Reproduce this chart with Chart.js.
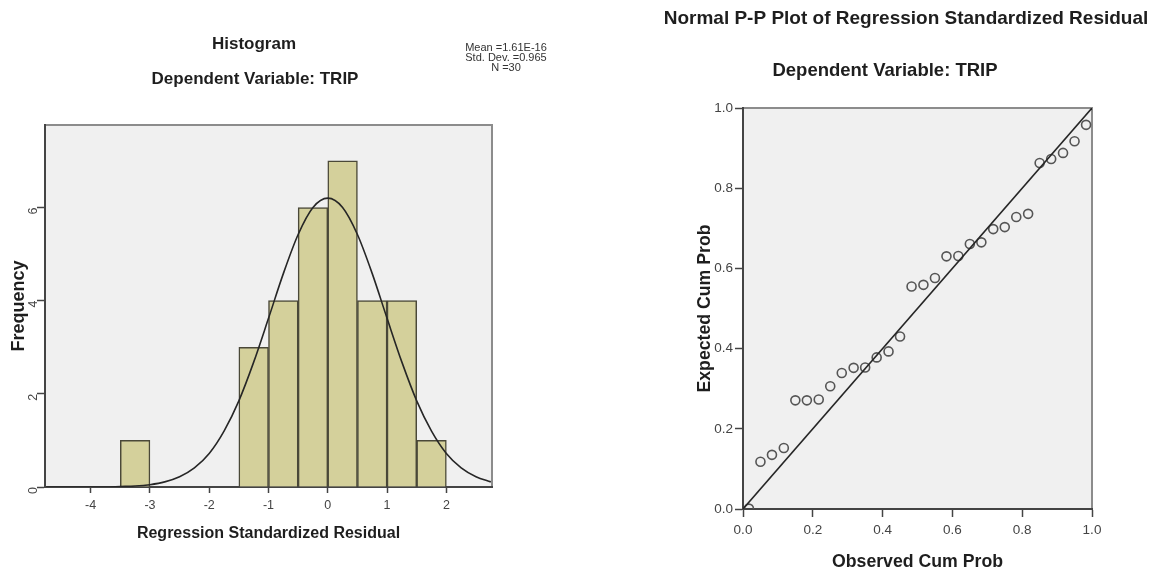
<!DOCTYPE html>
<html>
<head>
<meta charset="utf-8">
<script src="https://cdn.jsdelivr.net/npm/chart.js@4/dist/chart.umd.min.js"></script>
<style>
  html, body { margin: 0; padding: 0; background: #fff; }
  body { width: 1156px; height: 575px; position: relative; overflow: hidden; }
  canvas { position: absolute; top: 0; }
  #histo { left: 0; }
  #ppplot { left: 580px; }
</style>
</head>
<body>
<canvas id="histo" width="580" height="575"></canvas>
<canvas id="ppplot" width="576" height="575"></canvas>
<script>
// Histogram: bins of width 0.5 (centres) and counts
const binCenters = [-3.25, -1.25, -0.75, -0.25, 0.25, 0.75, 1.25, 1.75];
const binCounts  = [1, 3, 4, 6, 7, 4, 4, 1];

// normal curve
const curveX = [-4.75, -4.5, -4.25, -4, -3.75, -3.5, -3.25, -3, -2.75, -2.5, -2.25, -2, -1.75, -1.5, -1.25, -1,
                -0.75, -0.5, -0.25, 0, 0.25, 0.5, 0.75, 1, 1.25, 1.5, 1.75, 2, 2.25, 2.5, 2.75];
const curveY = [0, 0, 0, 0, 0, 0.01, 0.02, 0.05, 0.11, 0.22, 0.41, 0.72, 1.2, 1.85, 2.68, 3.62,
                4.58, 5.42, 6.0, 6.2, 6.0, 5.42, 4.58, 3.62, 2.68, 1.85, 1.2, 0.72, 0.41, 0.22, 0.11];

const histTicksX = [-4, -3, -2, -1, 0, 1, 2];
const histTicksY = [0, 2, 4, 6];
const statsLines = ['Mean =1.61E-16', 'Std. Dev. =0.965', 'N =30'];

// Normal P-P plot
const ppObserved = [0.017, 0.05, 0.083, 0.117, 0.15, 0.183, 0.217, 0.25, 0.283, 0.317, 0.35, 0.383, 0.417, 0.45, 0.483,
                    0.517, 0.55, 0.583, 0.617, 0.65, 0.683, 0.717, 0.75, 0.783, 0.817, 0.85, 0.883, 0.917, 0.95, 0.983];
const ppExpected = [0.001, 0.118, 0.135, 0.152, 0.271, 0.271, 0.273, 0.306, 0.339, 0.352, 0.353, 0.378, 0.393, 0.43, 0.555,
                    0.559, 0.576, 0.63, 0.631, 0.661, 0.665, 0.698, 0.703, 0.728, 0.736, 0.863, 0.873, 0.888, 0.917, 0.958];
const refLineX = [0, 1];
const refLineY = [0, 1];

const FONT = '"Liberation Sans", Arial, sans-serif';
Chart.defaults.font.family = FONT;
Chart.defaults.animation = false;

// grey plot background with frame
const plotFrame = {
    id: 'plotFrame',
    beforeDraw(chart) {
        const { ctx, chartArea: a } = chart;
        ctx.save();
        ctx.fillStyle = '#f0f0f0';
        ctx.fillRect(a.left, a.top, a.width, a.height);
        ctx.strokeStyle = '#8c8c8c';
        ctx.lineWidth = 2;
        ctx.strokeRect(a.left, a.top, a.width, a.height);
        ctx.restore();
    }
};

// titles and the stats block
const headText = {
    id: 'headText',
    afterDraw(chart, args, opts) {
        const ctx = chart.ctx;
        ctx.save();
        ctx.textAlign = 'center';
        ctx.textBaseline = 'middle';
        (opts.lines || []).forEach(l => {
            ctx.font = l.font;
            ctx.fillStyle = l.color || '#1e1e1e';
            ctx.fillText(l.text, l.x, l.y);
        });
        ctx.restore();
    }
};

function axisStyle(tickLength) {
    return {
        grid: { display: true, drawOnChartArea: false, drawTicks: true, tickLength: tickLength,
                tickColor: '#444', tickWidth: 1.5, offset: false },
        border: { display: true, color: '#444', width: 2 }
    };
}

// ---------- histogram ----------
new Chart(document.getElementById('histo'), {
    type: 'bar',
    data: {
        datasets: [
            {
                type: 'line',
                data: curveX.map((x, i) => ({ x: x, y: curveY[i] })),
                borderColor: '#262626',
                borderWidth: 1.6,
                pointRadius: 0,
                cubicInterpolationMode: 'monotone',
                order: 0
            },
            {
                type: 'bar',
                data: binCenters.map((x, i) => ({ x: x, y: binCounts[i] })),
                backgroundColor: '#d4d09b',
                borderColor: '#4a4838',
                borderWidth: 1.5,
                barPercentage: 1,
                categoryPercentage: 1,
                order: 1
            }
        ]
    },
    options: {
        responsive: false,
        layout: { padding: { top: 125, left: 0, right: 88, bottom: 0 } },
        plugins: {
            legend: { display: false },
            tooltip: { enabled: false },
            headText: {
                lines: [
                    { text: 'Histogram', x: 254, y: 44, font: 'bold 17px ' + FONT },
                    { text: 'Dependent Variable: TRIP', x: 255, y: 79, font: 'bold 17px ' + FONT },
                    { text: statsLines[0], x: 506, y: 48, font: '11px ' + FONT, color: '#333' },
                    { text: statsLines[1], x: 506, y: 58, font: '11px ' + FONT, color: '#333' },
                    { text: statsLines[2], x: 506, y: 68, font: '11px ' + FONT, color: '#333' }
                ]
            }
        },
        scales: {
            x: {
                type: 'linear',
                offset: false,
                min: -4.77,
                max: 2.77,
                afterBuildTicks: s => { s.ticks = histTicksX.map(v => ({ value: v })); },
                afterFit: s => { s.height = 88; },
                ticks: { color: '#444', font: { size: 12.5 }, padding: 5, maxRotation: 0 },
                title: { display: true, text: 'Regression Standardized Residual', color: '#1e1e1e',
                         font: { size: 16, weight: 'bold' }, padding: { top: 0, bottom: 32 } },
                ...axisStyle(6)
            },
            y: {
                type: 'linear',
                min: 0,
                max: 7.77,
                afterBuildTicks: s => { s.ticks = histTicksY.map(v => ({ value: v })); },
                afterFit: s => { s.width = 45; },
                ticks: { color: '#444', font: { size: 12.5 }, padding: 3, minRotation: 90, maxRotation: 90 },
                title: { display: true, text: 'Frequency', color: '#1e1e1e',
                         font: { size: 18, weight: 'bold' }, padding: { top: 8, bottom: 0 } },
                ...axisStyle(8)
            }
        }
    },
    plugins: [plotFrame, headText]
});

// ---------- normal P-P plot ----------
new Chart(document.getElementById('ppplot'), {
    type: 'scatter',
    data: {
        datasets: [
            {
                type: 'line',
                data: refLineX.map((x, i) => ({ x: x, y: refLineY[i] })),
                borderColor: '#262626',
                borderWidth: 1.6,
                pointRadius: 0,
                order: 0
            },
            {
                data: ppObserved.map((x, i) => ({ x: x, y: ppExpected[i] })),
                pointStyle: 'circle',
                pointRadius: 4.5,
                borderWidth: 1.6,
                borderColor: '#555',
                backgroundColor: 'rgba(0,0,0,0)',
                clip: 0,
                order: 1
            }
        ]
    },
    options: {
        responsive: false,
        layout: { padding: { top: 108, left: 0, right: 64, bottom: 0 } },
        plugins: {
            legend: { display: false },
            tooltip: { enabled: false },
            headText: {
                lines: [
                    { text: 'Normal P-P Plot of Regression Standardized Residual', x: 326, y: 19, font: 'bold 19px ' + FONT },
                    { text: 'Dependent Variable: TRIP', x: 305, y: 71, font: 'bold 18.5px ' + FONT }
                ]
            }
        },
        scales: {
            x: {
                type: 'linear',
                min: 0,
                max: 1,
                afterFit: s => { s.height = 66; },
                ticks: { stepSize: 0.2, color: '#444', font: { size: 13.5 }, padding: 5, maxRotation: 0,
                         callback: v => v.toFixed(1) },
                title: { display: true, text: 'Observed Cum Prob', color: '#1e1e1e',
                         font: { size: 17.7, weight: 'bold' }, padding: { top: 0, bottom: 2.4 } },
                ...axisStyle(8)
            },
            y: {
                type: 'linear',
                min: 0,
                max: 1,
                afterFit: s => { s.width = 163; },
                ticks: { stepSize: 0.2, color: '#444', font: { size: 13.5 }, padding: 2,
                         callback: v => v.toFixed(1) },
                title: { display: true, text: 'Expected Cum Prob', color: '#1e1e1e',
                         font: { size: 17.7, weight: 'bold' }, padding: { top: 114, bottom: 0 } },
                ...axisStyle(8)
            }
        }
    },
    plugins: [plotFrame, headText]
});
</script>
</body>
</html>
